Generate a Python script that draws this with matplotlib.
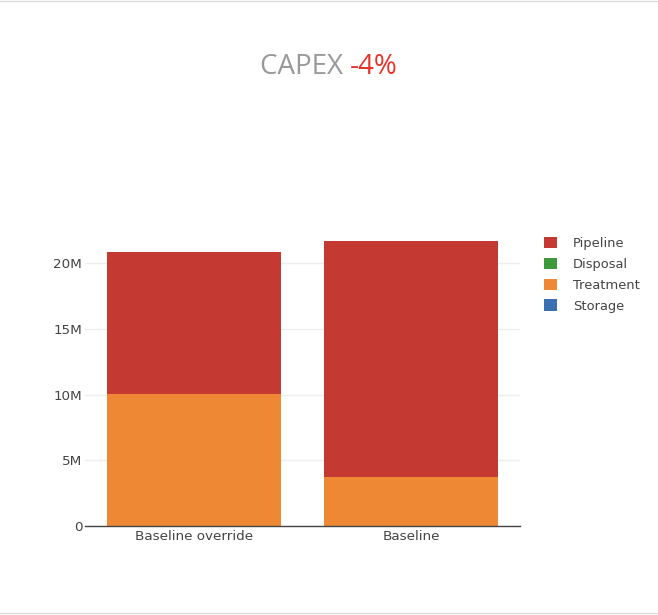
import matplotlib.pyplot as plt
from matplotlib.patches import Patch

plt.rcParams['font.family'] = ['DejaVu Sans']

# scenario totals by cost component
scenarios = ["Baseline override", "Baseline"]
storage = [0.0, 0.0]
treatment = [10.04e6, 3.73e6]
disposal = [0.0, 0.0]
pipeline = [10.80e6, 17.94e6]
change_label = "-4%"

colors = {
    "Storage": "#3a72b1",
    "Treatment": "#ee8834",
    "Disposal": "#3d9a3a",
    "Pipeline": "#c43a32",
}

fig = plt.figure(figsize=(6.58, 6.15), dpi=100)
ax = fig.add_axes([85 / 658, 89 / 615, 435 / 658, 299 / 615])

# stack bottom-up in trace order
series = [("Storage", storage), ("Treatment", treatment),
          ("Disposal", disposal), ("Pipeline", pipeline)]
x = list(range(len(scenarios)))
bottom = [0.0] * len(scenarios)
for name, vals in series:
    ax.bar(x, vals, width=0.8, bottom=bottom, color=colors[name],
           linewidth=0, zorder=3)
    bottom = [b + v for b, v in zip(bottom, vals)]

ax.set_xlim(-0.5, 1.5)
ax.set_ylim(0, max(bottom) * 1.05)

ticks = [0, 5e6, 10e6, 15e6, 20e6]
ax.set_yticks(ticks)
ax.set_yticklabels(["0", "5M", "10M", "15M", "20M"])
ax.set_xticks(x)
ax.set_xticklabels(scenarios)
ax.tick_params(axis="both", length=0, labelsize=9.7, colors="#444444")
ax.tick_params(axis="y", pad=2)
ax.tick_params(axis="x", pad=3)
ax.grid(axis="y", color="#eeeeee", linewidth=1, zorder=0)

for side in ["left", "right", "top"]:
    ax.spines[side].set_visible(False)
ax.spines["bottom"].set_color("#444444")
ax.spines["bottom"].set_linewidth(1)
ax.spines["bottom"].set_zorder(4)

# title with the percentage change in red
title_font = ['Open Sans', 'DejaVu Sans']
t1 = fig.text(0.5, 1 - 67 / 615, "CAPEX ", fontsize=20, color="#999999",
              ha="right", va="center", family=title_font)
fig.canvas.draw()
full_w = t1.get_window_extent().width
t2 = fig.text(0.5, 1 - 67 / 615, change_label, fontsize=20, color="#e8332a",
              ha="left", va="center", family=title_font)
fig.canvas.draw()
w2 = t2.get_window_extent().width
shift = (full_w - w2) / 2 / fig.bbox.width
t1.set_x(0.5 + shift)
t2.set_x(0.5 + shift)

# legend in reverse stacking order
handles = [Patch(facecolor=colors[n], edgecolor="none", label=n)
           for n, _ in reversed(series)]
fig.legend(handles=handles, loc="upper left",
           bbox_to_anchor=(532 / 658, 1 - 225 / 615), frameon=False,
           fontsize=9.4, labelcolor="#444444", handlelength=1.0,
           handleheight=1.0, handletextpad=1.25, labelspacing=0.58)

# faint frame lines at top and bottom edges
fig.add_artist(plt.Line2D([0, 1], [1 - 0.5 / 615, 1 - 0.5 / 615],
                          color="#dddddd", linewidth=1))
fig.add_artist(plt.Line2D([0, 1], [2 / 615, 2 / 615],
                          color="#dddddd", linewidth=1))

fig.savefig("out.png", dpi=100, facecolor="white")
